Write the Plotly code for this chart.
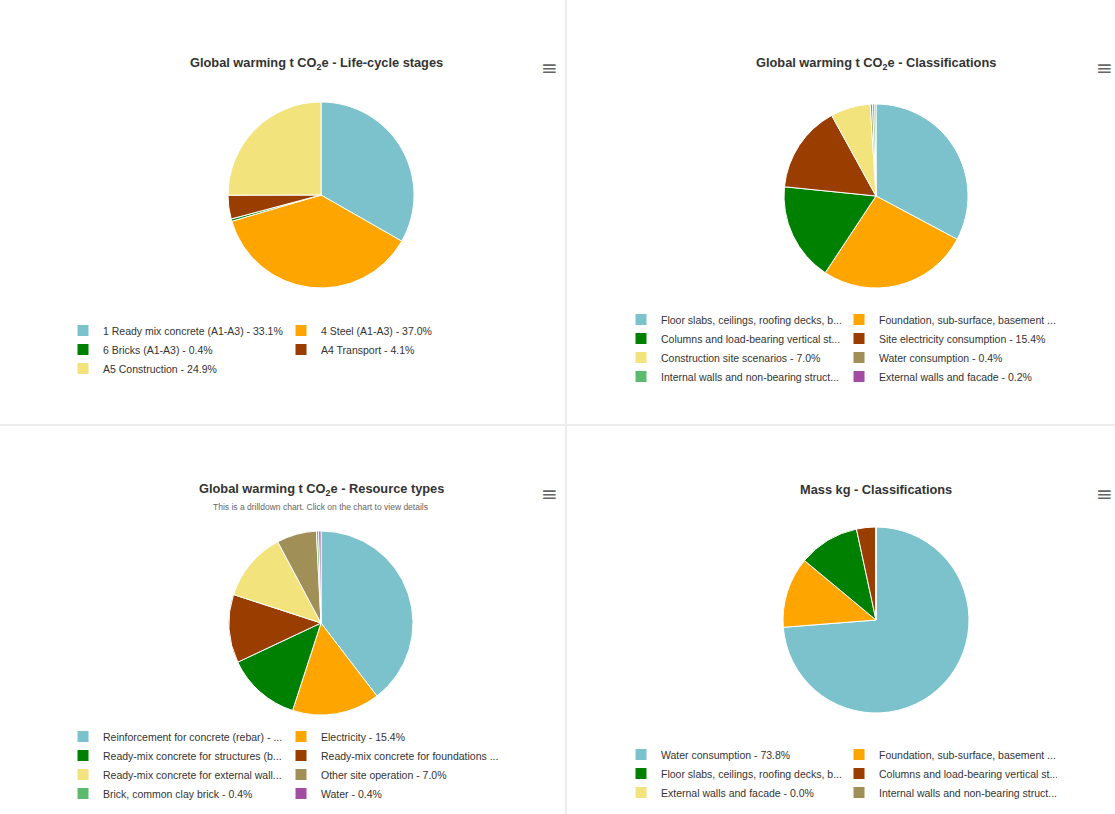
import plotly.graph_objects as go

# ---------------- data ----------------
stage_labels = ["1 Ready mix concrete (A1-A3) - 33.1%", "4 Steel (A1-A3) - 37.0%",
                "6 Bricks (A1-A3) - 0.4%", "A4 Transport - 4.1%", "A5 Construction - 24.9%"]
stage_values = [33.1, 37.0, 0.4, 4.1, 24.9]

class_labels = ["Floor slabs, ceilings, roofing decks, b...", "Foundation, sub-surface, basement ...",
                "Columns and load-bearing vertical st...", "Site electricity consumption - 15.4%",
                "Construction site scenarios - 7.0%", "Water consumption - 0.4%",
                "Internal walls and non-bearing struct...", "External walls and facade - 0.2%"]
class_values = [32.8, 26.5, 17.3, 15.4, 7.0, 0.4, 0.4, 0.2]

res_labels = ["Reinforcement for concrete (rebar) - ...", "Electricity - 15.4%",
              "Ready-mix concrete for structures (b...", "Ready-mix concrete for foundations ...",
              "Ready-mix concrete for external wall...", "Other site operation - 7.0%",
              "Brick, common clay brick - 0.4%", "Water - 0.4%"]
res_values = [39.6, 15.4, 13.0, 12.0, 12.2, 7.0, 0.4, 0.4]

mass_labels = ["Water consumption - 73.8%", "Foundation, sub-surface, basement ...",
               "Floor slabs, ceilings, roofing decks, b...", "Columns and load-bearing vertical st...",
               "External walls and facade - 0.0%", "Internal walls and non-bearing struct..."]
mass_values = [73.8, 12.3, 10.6, 3.3, 0.02, 0.05]

titles = ["Global warming t CO<sub>2</sub>e - Life-cycle stages",
          "Global warming t CO<sub>2</sub>e - Classifications",
          "Global warming t CO<sub>2</sub>e - Resource types",
          "Mass kg - Classifications"]
subtitle = "This is a drilldown chart. Click on the chart to view details"

# ---------------- style ----------------
BLUE = '#7cc2cd'; ORANGE = '#ffa500'; GREEN = '#008000'; BROWN = '#993d00'
YELLOW = '#f3e37c'; OLIVE = '#a08f57'; LGREEN = '#5cba6e'; PURPLE = '#a24ca2'

stage_colors = [BLUE, ORANGE, GREEN, BROWN, YELLOW]
class_colors = [BLUE, ORANGE, GREEN, BROWN, YELLOW, OLIVE, LGREEN, PURPLE]
res_colors = [BLUE, ORANGE, GREEN, BROWN, YELLOW, OLIVE, LGREEN, PURPLE]
mass_colors = [BLUE, ORANGE, GREEN, BROWN, YELLOW, OLIVE]

W, H = 1115, 814
ML, MR = 200, 130
PW = W - ML - MR


def fx(px):
    return (px - ML) / PW


def fy(py):
    return 1 - py / H


FONT = "Liberation Sans, Arial, sans-serif"

fig = go.Figure()

# pie legend entries are keyed by label across traces; a trailing no-break
# space keeps the second chart's identical labels as separate entries
mass_keys = [lab + "\u00a0" for lab in mass_labels]

pies = [
    (stage_labels, stage_values, stage_colors, (321, 195, 93), "legend"),
    (class_labels, class_values, class_colors, (876, 196, 92), "legend2"),
    (res_labels, res_values, res_colors, (321, 623, 92), "legend3"),
    (mass_keys, mass_values, mass_colors, (876, 620, 93), "legend4"),
]

for labels, values, colors, (cx, cy, r), lg in pies:
    fig.add_trace(go.Pie(
        labels=labels, values=values, sort=False, direction="clockwise", rotation=0,
        marker=dict(colors=colors, line=dict(color="white", width=1)),
        textinfo="none", hoverinfo="label+percent",
        domain=dict(x=[fx(cx - r), fx(cx + r)], y=[fy(cy + r), fy(cy - r)]),
        legend=lg,
    ))

leg_common = dict(orientation="h", entrywidth=173, entrywidthmode="pixels",
                  font=dict(family=FONT, size=10.5, color="#333333"),
                  bgcolor="rgba(0,0,0,0)", yanchor="top", traceorder="normal")

fig.update_layout(
    width=W, height=H,
    margin=dict(l=ML, r=MR, t=0, b=0, autoexpand=False),
    paper_bgcolor="white", plot_bgcolor="white",
    legend=dict(**leg_common, x=fx(63), xanchor="left", y=fy(316)),
    legend2=dict(**leg_common, x=fx(1057), xanchor="right", y=fy(305)),
    legend3=dict(**leg_common, x=fx(63), xanchor="left", y=fy(722)),
    legend4=dict(**leg_common, x=fx(1057), xanchor="right", y=fy(740)),
)

# panel separators
fig.add_shape(type="line", xref="paper", yref="paper", x0=fx(566), x1=fx(566), y0=0, y1=1,
              line=dict(color="#ededed", width=2))
fig.add_shape(type="line", xref="paper", yref="paper", x0=fx(0), x1=fx(W), y0=fy(425), y1=fy(425),
              line=dict(color="#ededed", width=2))

title_pos = [(316, 63), (876, 63), (321, 489), (876, 489)]
for t, (px, py) in zip(titles, title_pos):
    fig.add_annotation(text="<b>" + t + "</b>", xref="paper", yref="paper", x=fx(px), y=fy(py),
                       showarrow=False, xanchor="center", yanchor="middle",
                       font=dict(family=FONT, size=12.8, color="#333333"))

fig.add_annotation(text=subtitle, xref="paper", yref="paper", x=fx(320), y=fy(507),
                   showarrow=False, xanchor="center", yanchor="middle",
                   font=dict(family=FONT, size=8.5, color="#666666"))

for px, py in [(549, 68), (1104, 68), (549, 494), (1104, 494)]:
    fig.add_annotation(text="≡", xref="paper", yref="paper", x=fx(px), y=fy(py),
                       showarrow=False, xanchor="center", yanchor="middle",
                       font=dict(family="DejaVu Sans", size=20, color="#666666"))

fig.write_html("out.html")
